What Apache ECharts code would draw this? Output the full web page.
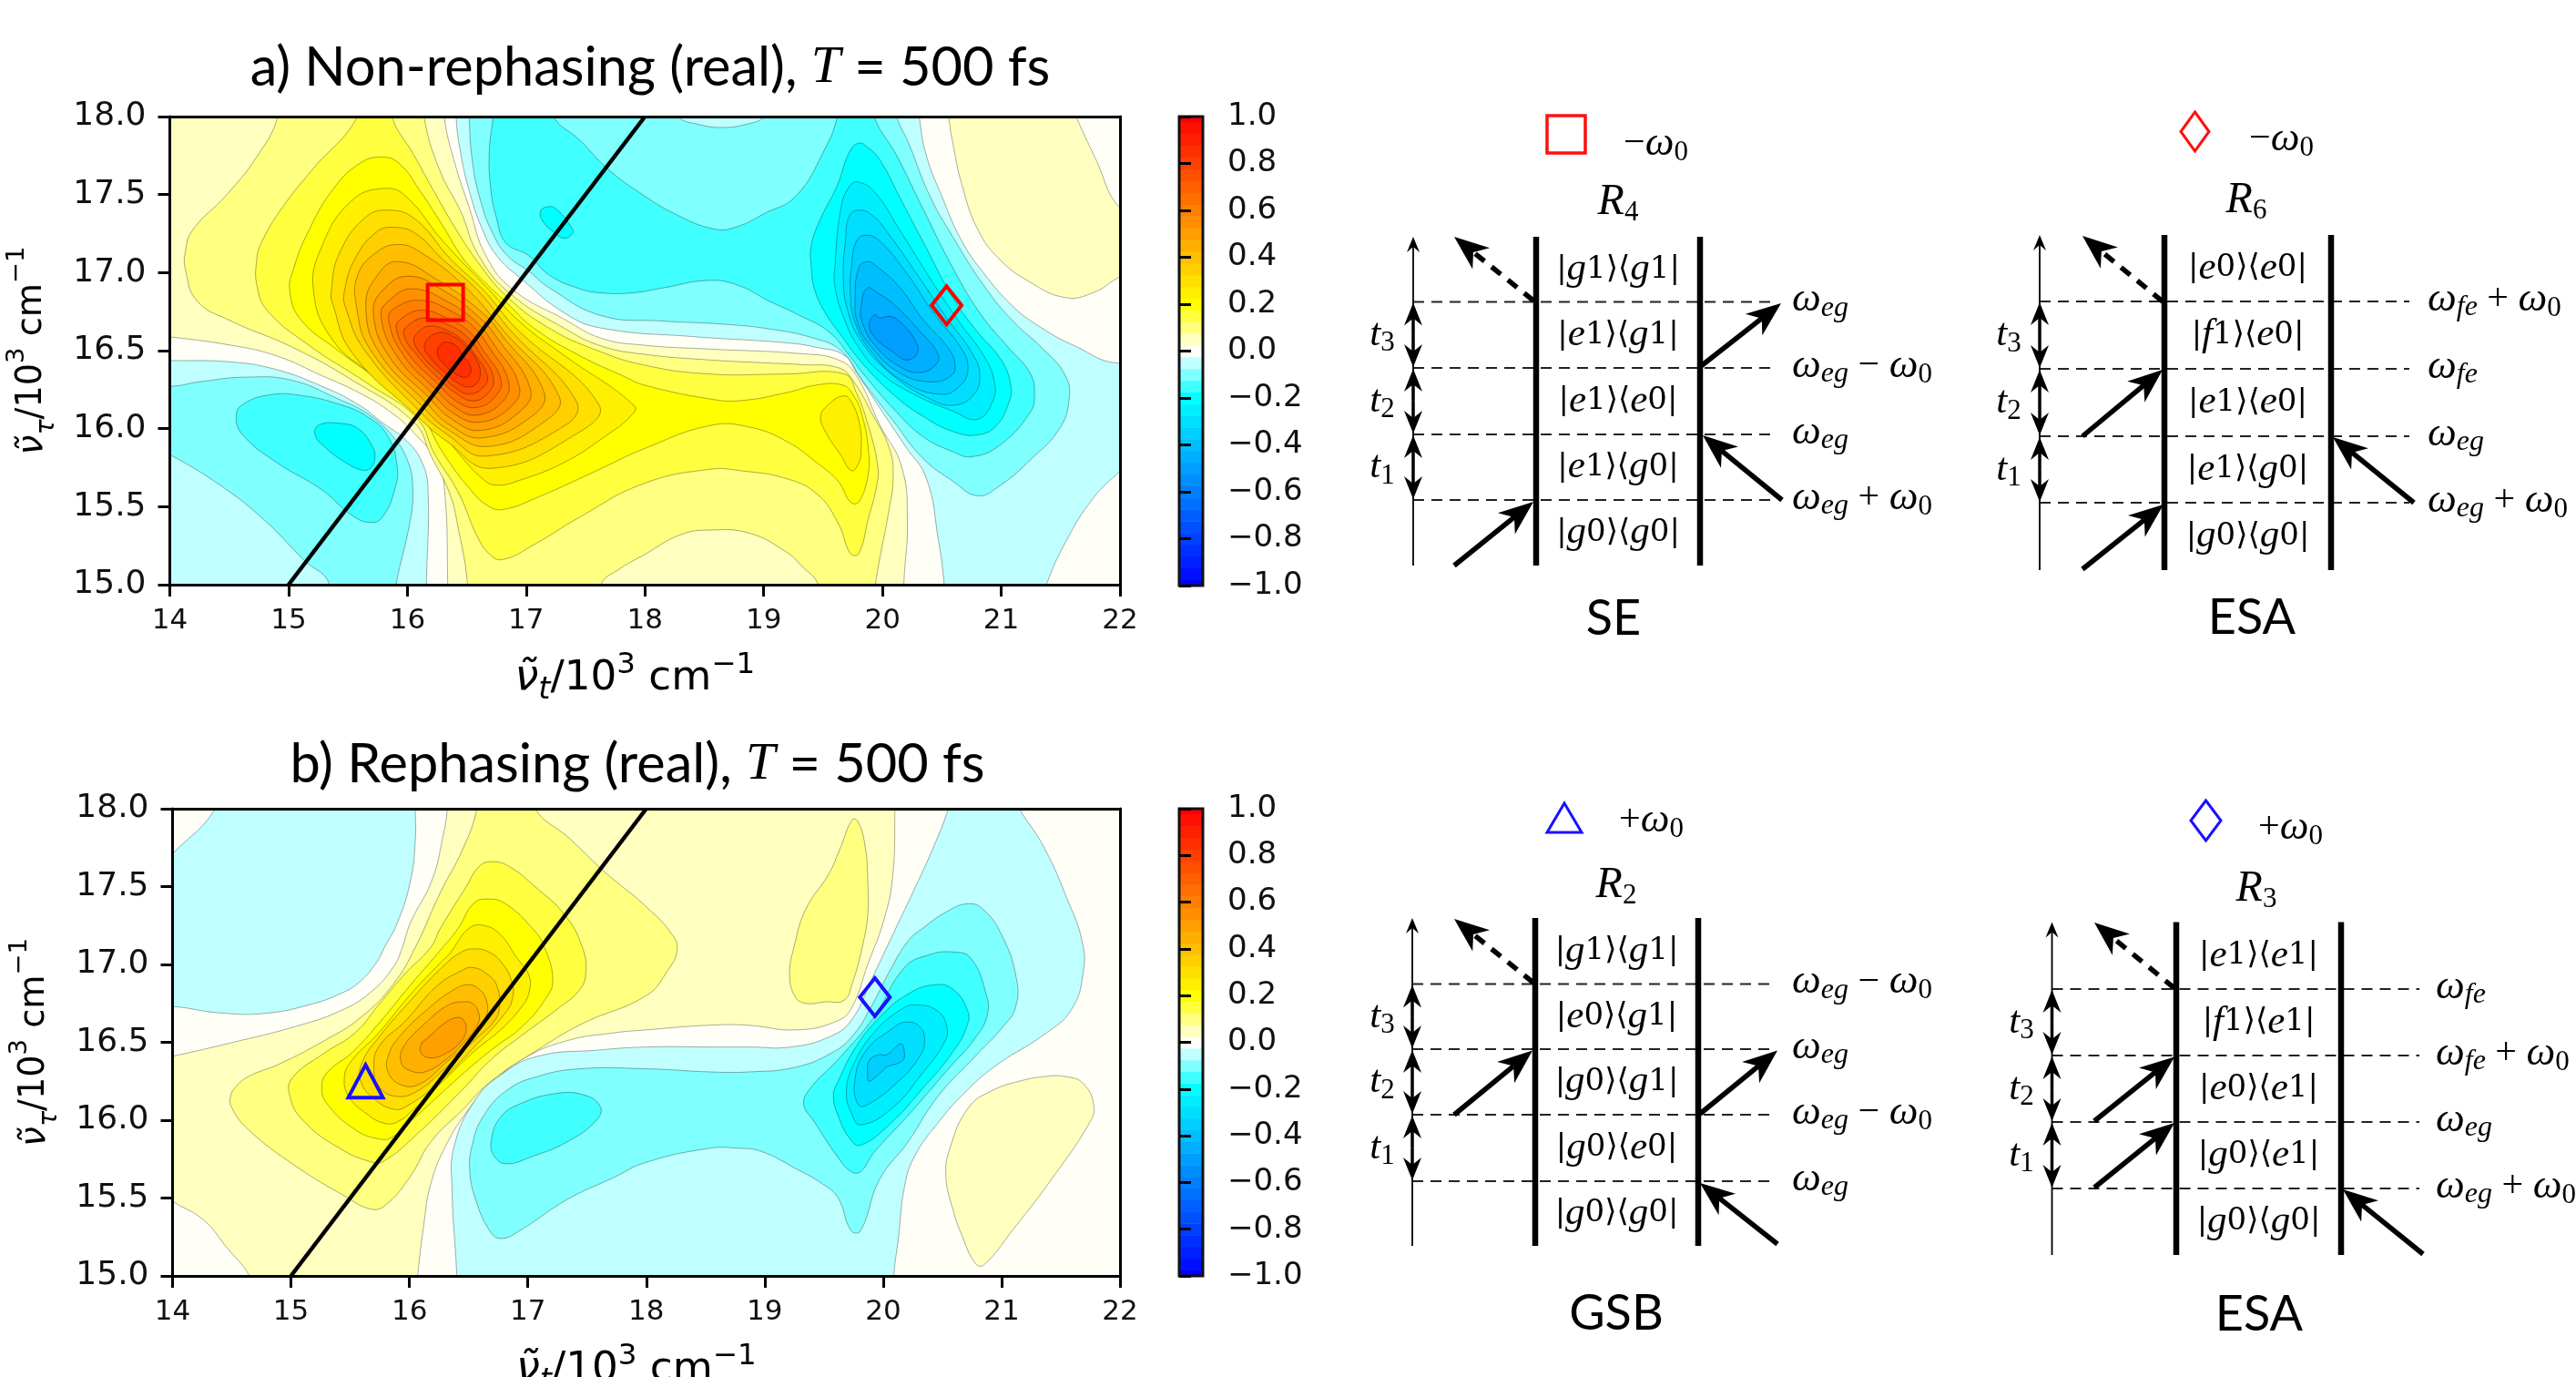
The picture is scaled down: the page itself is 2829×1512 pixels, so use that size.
<!DOCTYPE html>
<html><head><meta charset="utf-8">
<style>html,body{margin:0;padding:0;background:#fff}#c{width:2829px;height:1512px}</style>
<script src="https://cdn.jsdelivr.net/npm/echarts@6/dist/echarts.min.js"></script>
</head><body><div id="c"></div>
<script>
/* ---------- values ---------- */
const X_TICKS=[14,15,16,17,18,19,20,21,22];
const Y_TICKS=[15,15.5,16,16.5,17,17.5,18];
const BAR_LEVELS=[-1,-0.95,-0.9,-0.85,-0.8,-0.75,-0.7,-0.65,-0.6,-0.55,-0.5,-0.45,-0.4,-0.35,-0.3,-0.25,-0.2,-0.15,-0.1,-0.05,0,0.05,0.1,0.15,0.2,0.25,0.3,0.35,0.4,0.45,0.5,0.55,0.6,0.65,0.7,0.75,0.8,0.85,0.9,0.95,1];
const DIAGONAL=[[15,15],[18,18]];
const MARK_A_SQUARE=[[16.32,16.81]], MARK_A_DIAMOND=[[20.54,16.79]];
const MARK_B_TRIANGLE=[[15.63,16.25]], MARK_B_DIAMOND=[[19.93,16.79]];

/* Panel a: filled contour outlines, [nu_t, nu_tau] */
const A_P1=[[13.8,16.6],[14,16.588],[14.512,16.535],[14.895,16.467],[15.279,16.34],[15.586,16.233],[15.842,16.116],[16.046,15.98],[16.251,15.785],[16.315,15.59],[16.34,15],[16.34,14.8],[20.18,14.8],[20.18,15],[20.21,15.42],[20.16,15.76],[19.98,16.02],[19.78,16.34],[19.63,16.44],[19.32,16.48],[18.55,16.51],[17.99,16.535],[17.63,16.58],[17.325,16.7],[16.89,16.89],[16.66,17.11],[16.52,17.42],[16.4,17.7],[16.31,18],[16.31,18.2],[13.8,18.2]];
const A_P1B=[[20.56,18.15],[20.56,18],[20.6,17.8],[20.67,17.56],[20.8,17.28],[20.98,17.09],[21.24,16.94],[21.54,16.84],[21.77,16.87],[21.99,16.97],[22.2,17.05],[22.25,17.3],[21.99,17.42],[21.8,17.72],[21.63,18],[21.55,18.15]];
const A_P2=[[14.91,18.2],[14.91,18],[14.73,17.74],[14.48,17.5],[14.19,17.27],[14.13,17.13],[14.133,17.013],[14.23,16.818],[14.512,16.691],[15.023,16.525],[15.535,16.311],[16.059,16.038],[16.2,15.824],[16.353,15.59],[16.43,15.356],[16.507,15],[16.5,14.8],[17.63,14.8],[17.63,15],[17.785,15.1],[17.99,15.19],[18.3,15.32],[18.55,15.35],[18.88,15.33],[19.19,15.21],[19.32,15.12],[19.46,15],[19.5,14.8],[19.92,14.8],[19.94,15],[20.06,15.5],[20.09,15.68],[20.06,15.87],[19.91,16.1],[19.75,16.31],[19.63,16.39],[19.32,16.41],[19.06,16.42],[18.55,16.44],[17.99,16.477],[17.63,16.53],[17.325,16.642],[16.864,16.866],[16.6,17.11],[16.45,17.39],[16.27,17.66],[16.14,18],[16.14,18.2]];
const A_P3=[[15.58,18.2],[15.58,18],[15.2,17.66],[14.95,17.42],[14.77,17.19],[14.73,17.07],[14.734,16.915],[14.819,16.759],[15.151,16.545],[15.663,16.291],[16.085,16.063],[16.225,15.843],[16.43,15.59],[16.584,15.317],[16.686,15.2],[16.801,15.161],[17.069,15.258],[17.453,15.434],[17.99,15.648],[18.55,15.74],[18.81,15.73],[19.19,15.68],[19.45,15.58],[19.63,15.39],[19.73,15.2],[19.8,15.2],[19.88,15.42],[19.95,15.63],[19.96,15.76],[19.88,16.02],[19.78,16.23],[19.68,16.35],[19.19,16.35],[18.55,16.35],[17.99,16.408],[17.581,16.506],[17.198,16.642],[16.845,16.841],[16.61,17.05],[16.4,17.29],[16.21,17.54],[16.05,17.76],[15.87,18],[15.87,18.2]];
const A_P4=[[15.01,16.88],[15.04,17.02],[15.17,17.27],[15.38,17.54],[15.6,17.7],[15.78,17.74],[15.93,17.7],[16.11,17.52],[16.29,17.31],[16.47,17.09],[16.65,16.94],[16.821,16.818],[17.069,16.642],[17.453,16.467],[17.837,16.33],[17.99,16.28],[18.55,16.19],[18.81,16.18],[19.19,16.23],[19.45,16.28],[19.66,16.28],[19.75,16.22],[19.83,16.08],[19.88,15.87],[19.88,15.71],[19.8,15.53],[19.73,15.53],[19.63,15.66],[19.45,15.78],[19.19,15.92],[18.88,16.01],[18.55,16.02],[17.99,15.87],[17.581,15.726],[17.069,15.551],[16.814,15.483],[16.686,15.502],[16.532,15.609],[16.302,15.843],[16.11,16.087],[15.791,16.291],[15.407,16.506],[15.1,16.701]];
const A_P5=[[15.21,16.88],[15.27,17.15],[15.53,17.46],[15.82,17.54],[16,17.48],[16.29,17.21],[16.65,16.92],[16.967,16.671],[17.325,16.467],[17.913,16.145],[17.875,16.077],[17.683,15.96],[17.325,15.785],[16.942,15.668],[16.75,15.638],[16.635,15.677],[16.43,15.843],[16.136,16.116],[15.663,16.369],[15.356,16.584]];
const A_P5B=[[19.48,16.08],[19.54,16.15],[19.67,16.21],[19.74,16.17],[19.81,16.02],[19.82,15.86],[19.8,15.78],[19.74,15.73],[19.65,15.83],[19.52,15.98]];
const A_P6=[[15.368,16.808],[15.36,16.88],[15.42,17.11],[15.64,17.35],[15.85,17.4],[16.07,17.34],[16.36,17.09],[16.65,16.88],[16.916,16.642],[17.612,16.155],[17.453,15.98],[16.711,15.746],[16.328,15.921],[16.072,16.087],[15.535,16.486]];
const A_P7=[[15.47,16.88],[15.56,17.09],[15.74,17.26],[15.89,17.29],[16.07,17.25],[16.29,17.09],[16.6,16.88],[16.865,16.632],[17.423,16.175],[17.325,16.019],[16.66,15.824],[16.341,15.96],[16.098,16.116],[15.637,16.506],[15.479,16.779]];
const A_P8=[[15.573,16.779],[15.58,16.98],[15.74,17.13],[15.93,17.18],[16.11,17.13],[16.47,16.92],[16.827,16.613],[17.279,16.204],[17.159,16.048],[16.686,15.886],[16.353,15.989],[16.123,16.145],[15.688,16.506]];
const A_P9=[[15.65,16.779],[15.739,16.974],[15.919,17.071],[16.251,16.954],[16.635,16.74],[16.801,16.594],[17.151,16.233],[17.044,16.077],[16.635,15.941],[16.366,16.019],[16.149,16.174],[15.765,16.486]];
const A_P10=[[15.714,16.74],[15.791,16.886],[16.008,16.977],[16.302,16.886],[16.609,16.71],[16.763,16.574],[17.036,16.252],[16.942,16.106],[16.622,15.989],[16.379,16.058],[16.174,16.204],[15.842,16.467]];
const A_P11=[[15.778,16.72],[15.855,16.827],[16.046,16.896],[16.328,16.818],[16.584,16.681],[16.724,16.545],[16.942,16.272],[16.865,16.136],[16.609,16.042],[16.392,16.097],[16.2,16.233],[15.919,16.457]];
const A_P12=[[15.842,16.701],[15.906,16.779],[16.123,16.822],[16.353,16.759],[16.558,16.652],[16.686,16.525],[16.852,16.301],[16.801,16.174],[16.584,16.087],[16.404,16.136],[16.225,16.262],[15.97,16.467]];
const A_P13=[[15.906,16.642],[15.957,16.71],[16.123,16.759],[16.328,16.71],[16.519,16.623],[16.635,16.506],[16.788,16.311],[16.737,16.204],[16.584,16.136],[16.417,16.174],[16.251,16.291],[16.021,16.467]];
const A_P14=[[15.97,16.603],[16.021,16.671],[16.161,16.71],[16.328,16.671],[16.494,16.594],[16.609,16.486],[16.724,16.33],[16.686,16.233],[16.558,16.178],[16.417,16.223],[16.264,16.321],[16.085,16.467]];
const A_P15=[[16.054,16.564],[16.098,16.623],[16.187,16.658],[16.328,16.632],[16.468,16.564],[16.558,16.486],[16.673,16.34],[16.635,16.262],[16.519,16.223],[16.404,16.262],[16.277,16.35],[16.136,16.457]];
const A_P16=[[16.144,16.535],[16.251,16.613],[16.379,16.594],[16.519,16.506],[16.584,16.438],[16.614,16.36],[16.584,16.291],[16.519,16.266],[16.43,16.291],[16.315,16.36],[16.2,16.447]];
const A_P17=[[16.251,16.486],[16.276,16.535],[16.327,16.554],[16.404,16.535],[16.468,16.467],[16.532,16.398],[16.519,16.34],[16.468,16.33],[16.391,16.36],[16.302,16.418]];
const A_N1=[[13.8,16.44],[14,16.437],[14.512,16.428],[14.895,16.379],[15.279,16.272],[15.586,16.155],[15.791,16.038],[15.995,15.921],[16.123,15.785],[16.174,15.609],[16.161,15],[16.16,14.8],[13.8,14.8]];
const A_N2=[[13.8,16.3],[14,16.272],[14.256,16.301],[14.64,16.33],[15.023,16.311],[15.407,16.194],[15.662,16.097],[15.867,15.96],[16.007,15.785],[16.046,15.59],[16.02,15.395],[15.905,15],[15.88,14.8],[15.25,14.8],[15.343,15],[15.125,15.161],[14.767,15.434],[14.384,15.658],[14,15.833],[13.8,15.9]];
const A_N3=[[14.558,16.077],[14.614,16.155],[14.844,16.217],[15.1,16.213],[15.432,16.155],[15.662,16.077],[15.829,15.96],[15.913,15.765],[15.893,15.609],[15.791,15.434],[15.688,15.399],[15.535,15.444],[15.279,15.609],[14.895,15.785],[14.614,15.96]];
const A_N4=[[15.223,15.96],[15.253,16.022],[15.432,16.034],[15.586,15.999],[15.701,15.892],[15.727,15.814],[15.688,15.746],[15.611,15.736],[15.458,15.794],[15.305,15.882]];
const A_M1=[[16.41,18.2],[16.41,18],[16.45,17.76],[16.53,17.5],[16.63,17.28],[16.75,17.11],[16.96,16.96],[17.325,16.74],[17.63,16.645],[18.4,16.59],[19.19,16.55],[19.45,16.52],[19.68,16.47],[19.78,16.36],[19.98,16.13],[20.19,15.89],[20.37,15.68],[20.47,15.29],[20.52,15],[20.53,14.8],[21.3,14.8],[21.38,15],[21.54,15.27],[21.77,15.55],[21.99,15.72],[22.26,15.9],[22.26,16.5],[21.99,16.42],[21.62,16.53],[21.31,16.66],[21.09,16.79],[20.86,16.99],[20.67,17.2],[20.5,17.49],[20.37,17.75],[20.31,18],[20.28,18.2]];
const A_M2=[[16.52,18.2],[16.52,18],[16.55,17.7],[16.62,17.45],[16.72,17.25],[16.84,17.11],[17.02,17.01],[17.2,16.9],[17.63,16.725],[18.14,16.69],[18.65,16.67],[19.04,16.64],[19.42,16.58],[19.65,16.5],[19.83,16.31],[20.09,16.05],[20.34,15.81],[20.6,15.66],[20.8,15.57],[20.98,15.63],[21.26,15.81],[21.49,16],[21.57,16.18],[21.54,16.34],[21.34,16.52],[21.11,16.68],[20.86,16.91],[20.6,17.22],[20.4,17.49],[20.22,17.83],[20.12,18],[20.08,18.2]];
const A_M1HOLE=[[18.2,18.1],[18.27,18],[18.45,17.95],[18.65,17.93],[18.85,17.95],[19.01,18],[19.08,18.1]];
const A_M3=[[16.72,18.15],[16.72,18],[16.69,17.78],[16.7,17.55],[16.75,17.35],[16.83,17.19],[17.02,17.11],[17.197,16.983],[17.453,16.896],[17.63,16.87],[17.89,16.87],[18.14,16.9],[18.53,16.95],[18.78,16.92],[19.04,16.82],[19.29,16.73],[19.55,16.62],[19.73,16.46],[19.83,16.36],[20.09,16.13],[20.34,15.95],[20.6,15.85],[20.75,15.82],[20.98,15.89],[21.24,16.1],[21.28,16.22],[21.24,16.36],[21.06,16.52],[20.83,16.73],[20.6,17.02],[20.34,17.41],[20.12,17.75],[19.93,18],[19.93,18.15],[19.62,18.15],[19.62,18],[19.5,17.77],[19.27,17.49],[19.01,17.38],[18.76,17.29],[18.58,17.28],[18.27,17.37],[17.96,17.51],[17.68,17.67],[17.45,17.85],[17.23,18],[17.23,18.15]];
const A_M4=[[19.8,17.83],[19.72,17.77],[19.62,17.56],[19.47,17.33],[19.4,17.17],[19.4,17.04],[19.43,16.89],[19.52,16.74],[19.65,16.6],[19.83,16.42],[20.09,16.22],[20.34,16.08],[20.6,15.98],[20.8,15.96],[20.96,16.02],[21.07,16.18],[21.08,16.28],[21,16.44],[20.8,16.62],[20.6,16.83],[20.34,17.2],[20.14,17.49],[19.98,17.72],[19.88,17.8]];
const A_M4B=[[17.12,17.39],[17.17,17.42],[17.25,17.41],[17.39,17.28],[17.39,17.25],[17.32,17.22],[17.23,17.26],[17.14,17.33]];
const A_M5=[[19.8,17.58],[19.72,17.55],[19.65,17.41],[19.6,17.04],[19.6,16.91],[19.68,16.7],[19.8,16.52],[19.98,16.36],[20.24,16.23],[20.6,16.11],[20.8,16.06],[20.93,16.18],[20.94,16.31],[20.85,16.47],[20.65,16.68],[20.42,16.94],[20.14,17.28],[19.94,17.51]];
const A_M6=[[19.8,17.4],[19.72,17.36],[19.69,17.22],[19.67,16.96],[19.71,16.75],[19.83,16.55],[20.09,16.34],[20.4,16.19],[20.6,16.15],[20.76,16.21],[20.82,16.34],[20.75,16.49],[20.55,16.7],[20.29,16.99],[20.04,17.26],[19.91,17.37]];
const A_M7=[[19.86,17.24],[19.78,17.2],[19.74,17.04],[19.73,16.86],[19.77,16.68],[19.91,16.49],[20.16,16.31],[20.49,16.22],[20.66,16.28],[20.72,16.39],[20.66,16.52],[20.44,16.73],[20.21,16.99],[19.98,17.2]];
const A_M8=[[19.87,17.07],[19.8,17.03],[19.77,16.83],[19.79,16.68],[19.91,16.52],[20.14,16.36],[20.4,16.3],[20.58,16.34],[20.61,16.42],[20.55,16.52],[20.34,16.7],[20.14,16.91],[19.95,17.04]];
const A_M9=[[19.87,16.9],[19.82,16.78],[19.83,16.68],[19.94,16.53],[20.14,16.4],[20.32,16.36],[20.46,16.42],[20.46,16.49],[20.32,16.62],[20.12,16.78],[19.96,16.87]];
const A_M10=[[19.93,16.73],[19.89,16.66],[19.94,16.58],[20.09,16.49],[20.2,16.44],[20.29,16.48],[20.28,16.56],[20.14,16.69],[20.06,16.72],[19.98,16.71]];

/* Panel b */
const B_P1=[[13.8,16.38],[14,16.41],[14.51,16.5],[15.03,16.6],[15.41,16.7],[15.67,16.82],[15.87,16.99],[15.94,17.11],[16.01,17.27],[16.19,17.54],[16.28,17.81],[16.32,18],[16.33,18.2],[20.1,18.2],[20.1,18],[20.08,17.56],[20,17.27],[19.87,17],[19.74,16.73],[19.62,16.64],[19.28,16.58],[18.85,16.61],[18.54,16.61],[18,16.58],[17.72,16.56],[17.33,16.51],[16.95,16.39],[16.69,16.23],[16.51,16.08],[16.31,15.84],[16.18,15.59],[16.12,15.32],[16.07,15],[16.05,14.8],[14.75,14.8],[14.65,15],[14.46,15.18],[14.26,15.36],[14,15.48],[13.8,15.6]];
const B_P1B=[[21.36,16.28],[21.54,16.28],[21.69,16.235],[21.78,16.09],[21.74,15.98],[21.44,15.64],[21.1,15.3],[20.85,15.07],[20.78,15.08],[20.67,15.25],[20.58,15.45],[20.53,15.64],[20.56,15.81],[20.72,16.08],[20.92,16.19],[21.15,16.25]];
const B_P2=[[16.57,18.15],[16.57,18],[16.45,17.74],[16.26,17.46],[16.05,17.11],[15.87,16.88],[15.59,16.66],[15.28,16.51],[14.9,16.36],[14.64,16.28],[14.53,16.21],[14.49,16.155],[14.5,16.08],[14.64,15.94],[15.03,15.71],[15.46,15.51],[15.67,15.43],[15.79,15.45],[16,15.63],[16.18,15.86],[16.44,16.06],[16.69,16.25],[17.08,16.45],[17.46,16.62],[18,16.8],[18.18,16.96],[18.26,17.09],[18.22,17.19],[18,17.37],[17.64,17.6],[17.35,17.81],[17.06,18],[17.06,18.15]];
const B_P2B=[[19.74,17.93],[19.79,17.915],[19.85,17.75],[19.87,17.53],[19.87,17.32],[19.82,17.1],[19.74,16.88],[19.67,16.77],[19.51,16.76],[19.35,16.75],[19.26,16.79],[19.21,16.93],[19.25,17.12],[19.35,17.36],[19.54,17.58],[19.64,17.75]];
const B_P3=[[17.46,17.11],[17.49,16.95],[17.44,16.84],[17.26,16.72],[16.95,16.545],[16.69,16.39],[16.44,16.19],[16.05,15.9],[15.79,15.74],[15.69,15.73],[15.41,15.82],[15.1,16],[14.99,16.155],[15.01,16.27],[15.28,16.43],[15.54,16.56],[15.74,16.74],[15.95,16.93],[16.18,17.11],[16.26,17.23],[16.48,17.5],[16.59,17.63],[16.7,17.66],[16.84,17.63],[17.06,17.5],[17.32,17.31]];
const B_P4=[[17.14,17.11],[17.21,16.9],[17.15,16.78],[16.95,16.6],[16.69,16.45],[16.44,16.29],[16.05,16.02],[15.85,15.89],[15.74,15.88],[15.54,15.94],[15.31,16.1],[15.26,16.21],[15.31,16.31],[15.51,16.43],[15.74,16.62],[16,16.86],[16.26,17.09],[16.41,17.23],[16.54,17.39],[16.66,17.42],[16.81,17.39],[17.04,17.23]];
const B_P5=[[17.01,16.93],[17.01,16.82],[16.95,16.73],[16.77,16.58],[16.56,16.45],[16.31,16.27],[16.05,16.08],[15.9,15.99],[15.79,15.98],[15.64,16.04],[15.49,16.15],[15.45,16.27],[15.51,16.38],[15.74,16.56],[16,16.8],[16.26,17.01],[16.34,17.07],[16.5,17.23],[16.63,17.25],[16.77,17.19],[16.9,17.05]];
const B_P6=[[16.56,17.1],[16.44,17.08],[16.26,16.97],[16,16.76],[15.74,16.53],[15.6,16.37],[15.59,16.25],[15.69,16.145],[15.87,16.07],[16,16.1],[16.26,16.25],[16.56,16.48],[16.79,16.67],[16.87,16.78],[16.86,16.9],[16.77,17.02],[16.67,17.08]];
const B_P7=[[16.54,16.98],[16.44,16.96],[16.23,16.86],[15.97,16.64],[15.74,16.47],[15.7,16.33],[15.74,16.22],[15.87,16.155],[16.05,16.18],[16.31,16.34],[16.56,16.52],[16.72,16.64],[16.76,16.73],[16.74,16.86],[16.67,16.93]];
const B_P8=[[16.5,16.87],[16.38,16.84],[16.18,16.73],[15.92,16.54],[15.82,16.41],[15.82,16.31],[15.92,16.23],[16.08,16.23],[16.31,16.37],[16.56,16.55],[16.65,16.67],[16.65,16.77],[16.59,16.84]];
const B_P9=[[16.46,16.76],[16.33,16.74],[16.13,16.62],[15.95,16.47],[15.93,16.37],[16,16.32],[16.13,16.31],[16.31,16.39],[16.46,16.5],[16.58,16.62],[16.58,16.7],[16.53,16.75]];
const B_P10=[[16.41,16.66],[16.31,16.63],[16.15,16.525],[16.1,16.49],[16.1,16.43],[16.18,16.4],[16.31,16.43],[16.44,16.51],[16.48,16.59],[16.46,16.64]];
const B_N1A=[[14.36,18.15],[14.36,18],[14,17.71],[13.8,17.55],[13.8,16.72],[14,16.73],[14.38,16.69],[14.77,16.685],[15.15,16.74],[15.44,16.82],[15.59,16.895],[15.72,17.01],[15.79,17.11],[15.9,17.27],[16.01,17.54],[16.05,17.8],[16.05,18],[16.05,18.15]];
const B_N1=[[16.4,14.8],[16.4,15],[16.36,15.55],[16.38,15.84],[16.56,16.135],[16.77,16.29],[17.08,16.41],[17.59,16.45],[18,16.47],[18.54,16.47],[18.87,16.47],[19.22,16.47],[19.56,16.54],[19.74,16.65],[19.9,16.9],[20.08,17.19],[20.28,17.51],[20.44,17.78],[20.55,18],[20.6,18.15],[21.05,18.15],[21.15,18],[21.36,17.75],[21.56,17.41],[21.68,17.15],[21.69,16.95],[21.59,16.71],[21.36,16.55],[20.97,16.36],[20.72,16.2],[20.46,15.98],[20.26,15.76],[20.18,15.57],[20.13,15.25],[20.09,15],[20.08,14.8]];
const B_N2=[[16.53,15.84],[16.62,16.02],[16.82,16.19],[17.08,16.28],[17.44,16.33],[18,16.33],[18.54,16.31],[18.87,16.31],[19.26,16.34],[19.56,16.43],[19.74,16.54],[19.9,16.73],[20.05,16.95],[20.21,17.15],[20.33,17.23],[20.54,17.34],[20.72,17.39],[20.85,17.35],[21,17.19],[21.12,16.93],[21.12,16.73],[21,16.59],[20.79,16.42],[20.46,16.15],[20.21,15.86],[19.97,15.62],[19.81,15.29],[19.73,15.29],[19.62,15.5],[19.49,15.59],[19.26,15.69],[18.97,15.8],[18.77,15.82],[18.54,15.82],[18,15.73],[17.72,15.63],[17.33,15.49],[16.95,15.3],[16.77,15.24],[16.67,15.3],[16.56,15.49],[16.51,15.67]];
const B_N3A=[[16.69,15.86],[16.77,16.02],[16.95,16.11],[17.23,16.17],[17.46,16.165],[17.61,16.09],[17.58,16],[17.33,15.86],[17.03,15.765],[16.82,15.72],[16.72,15.765]];
const B_N3=[[19.33,16.1],[19.38,16.2],[19.62,16.39],[19.92,16.66],[20.18,16.98],[20.38,17.06],[20.59,17.08],[20.74,17.04],[20.87,16.81],[20.88,16.68],[20.79,16.54],[20.54,16.32],[20.21,16.03],[19.92,15.79],[19.81,15.67],[19.73,15.67],[19.62,15.76],[19.41,16]];
const B_N4=[[19.58,16.16],[19.62,16.25],[19.77,16.47],[19.97,16.66],[20.21,16.81],[20.44,16.87],[20.59,16.84],[20.71,16.71],[20.71,16.61],[20.59,16.44],[20.33,16.2],[20.05,15.97],[19.81,15.84],[19.72,15.88],[19.62,16.03]];
const B_N5=[[19.69,16.175],[19.74,16.34],[19.92,16.56],[20.15,16.71],[20.28,16.74],[20.46,16.7],[20.54,16.59],[20.51,16.49],[20.33,16.3],[20.08,16.08],[19.81,15.97],[19.73,16.05]];
const B_N6=[[19.76,16.25],[19.85,16.44],[20.08,16.59],[20.19,16.63],[20.31,16.6],[20.35,16.51],[20.31,16.41],[20.13,16.25],[19.87,16.1],[19.79,16.1]];
const B_N7=[[19.87,16.3],[19.88,16.38],[19.96,16.42],[20.03,16.42],[20.15,16.49],[20.18,16.43],[20.16,16.38],[20.03,16.34],[19.97,16.3],[19.88,16.25]];

/* contour table: [band value, outline], painted in this order */
const PANEL_A=[[0.05,A_P1],[0.05,A_P1B],[0.1,A_P2],[0.15,A_P3],[0.2,A_P4],[0.25,A_P5],[0.25,A_P5B],[0.3,A_P6],[0.35,A_P7],[0.4,A_P8],[0.45,A_P9],[0.5,A_P10],[0.55,A_P11],[0.6,A_P12],[0.65,A_P13],[0.7,A_P14],[0.75,A_P15],[0.8,A_P16],[0.85,A_P17],
 [-0.05,A_N1],[-0.1,A_N2],[-0.15,A_N3],[-0.2,A_N4],[-0.05,A_M1],[-0.1,A_M2],[-0.05,A_M1HOLE],[-0.15,A_M3],[-0.2,A_M4],[-0.2,A_M4B],[-0.25,A_M5],[-0.3,A_M6],[-0.35,A_M7],[-0.4,A_M8],[-0.45,A_M9],[-0.5,A_M10]];
const PANEL_B=[[0.05,B_P1],[0.05,B_P1B],[0.1,B_P2],[0.1,B_P2B],[0.15,B_P3],[0.2,B_P4],[0.25,B_P5],[0.3,B_P6],[0.35,B_P7],[0.4,B_P8],[0.45,B_P9],[0.5,B_P10],
 [-0.05,B_N1A],[-0.05,B_N1],[-0.1,B_N2],[-0.15,B_N3A],[-0.15,B_N3],[-0.2,B_N4],[-0.25,B_N5],[-0.3,B_N6],[-0.35,B_N7]];

/* Feynman diagram text */
const STATES_SE=['|g1⟩⟨g1|','|e1⟩⟨g1|','|e1⟩⟨e0|','|e1⟩⟨g0|','|g0⟩⟨g0|'];
const STATES_R6=['|e0⟩⟨e0|','|f1⟩⟨e0|','|e1⟩⟨e0|','|e1⟩⟨g0|','|g0⟩⟨g0|'];
const STATES_R2=['|g1⟩⟨g1|','|e0⟩⟨g1|','|g0⟩⟨g1|','|g0⟩⟨e0|','|g0⟩⟨g0|'];
const STATES_R3=['|e1⟩⟨e1|','|f1⟩⟨e1|','|e0⟩⟨e1|','|g0⟩⟨e1|','|g0⟩⟨g0|'];
const FREQ_SE=[['eg',''],['eg','−'],['eg',''],['eg','+']];
const FREQ_R6=[['fe','+'],['fe',''],['eg',''],['eg','+']];
const FREQ_R2=[['eg','−'],['eg',''],['eg','−'],['eg','']];
const FREQ_R3=[['fe',''],['fe','+'],['eg',''],['eg','+']];

/* ---------- drawing ---------- */
function bandColor(v){
  const a=Math.abs(v); if(a<1e-6) return '#fffff8';
  let r,g,b;
  if(a<=0.2){const t=Math.round(255*(1-a/0.2)); if(v>0){r=255;g=255;b=t}else{r=t;g=255;b=255}}
  else{const t=Math.round(255*(1-(a-0.2)/0.8)); if(v>0){r=255;g=t;b=0}else{r=0;g=t;b=255}}
  return 'rgb('+r+','+g+','+b+')';
}
const FONT='DejaVu Sans';
function nuLabel(sub){
  return '{n|ν̃}{s|'+sub+'}{r|/10}{u|3}{r| cm}{u|−1}';
}
const richFor=(k)=>({
  n:{fontFamily:FONT,fontStyle:'italic',fontSize:40*k,lineHeight:60,color:'#000'},
  r:{fontFamily:FONT,fontSize:39*k,lineHeight:60,color:'#000'},
  s:{fontFamily:FONT,fontStyle:'italic',fontSize:29*k,lineHeight:38,verticalAlign:'bottom',color:'#000'},
  u:{fontFamily:FONT,fontSize:28*k,lineHeight:38,verticalAlign:'top',color:'#000'}
});
const fmtTick=v=>{const s=Math.abs(v)<1e-9?'0.0':Math.abs(v).toFixed(1);return (v<-1e-9?'−':'')+s};
function mainAxes(g){
  const ax=(extra)=>Object.assign({gridIndex:g,z:10,axisLine:{show:true,onZero:false,lineStyle:{color:'#000',width:3}},splitLine:{show:false}},extra);
  return {
   x:[ax({type:'value',min:X_TICKS[0],max:X_TICKS[X_TICKS.length-1],interval:1,position:'bottom',
        axisTick:{show:true,length:13,lineStyle:{color:'#000',width:3}},axisLabel:{color:'#111',fontFamily:FONT,fontSize:31,margin:24,showMinLabel:true,showMaxLabel:true},
        name:nuLabel('t'),nameLocation:'middle',nameGap:73,nameMoveOverlap:false,nameTextStyle:{padding:[0,22,0,0],rich:richFor(1.16)}}),
      ax({type:'value',min:14,max:22,interval:1,position:'top',axisTick:{show:false},axisLabel:{show:false}})],
   y:[ax({type:'value',min:Y_TICKS[0],max:Y_TICKS[Y_TICKS.length-1],interval:0.5,position:'left',
        axisTick:{show:true,length:13,lineStyle:{color:'#000',width:3}},axisLabel:{color:'#111',fontFamily:FONT,fontSize:36,margin:26,formatter:fmtTick,showMinLabel:true,showMaxLabel:true,verticalAlignMaxLabel:'middle',verticalAlignMinLabel:'middle'},
        name:nuLabel('τ'),nameLocation:'middle',nameGap:121,nameRotate:90,nameMoveOverlap:false,nameTextStyle:{rich:richFor(0.98)}}),
      ax({type:'value',min:15,max:18,interval:0.5,position:'right',axisTick:{show:false},axisLabel:{show:false}})]
  };
}
const aA=mainAxes(0), aB=mainAxes(1);
const barAxis=(g)=>({x:{gridIndex:g,type:'value',min:0,max:1,show:false},
  y:{gridIndex:g,type:'value',min:-1,max:1,interval:0.2,position:'right',z:10,
    axisLine:{show:false},splitLine:{show:false},
    axisTick:{show:true,length:13,lineStyle:{color:'#000',width:3}},
    axisLabel:{color:'#111',fontFamily:FONT,fontSize:34,margin:27,formatter:fmtTick,showMinLabel:true,showMaxLabel:true,verticalAlignMaxLabel:'middle',verticalAlignMinLabel:'middle'}}});
const bA=barAxis(2), bB=barAxis(3);

function contourSeries(table,xi,yi){
  return {type:'custom',xAxisIndex:xi,yAxisIndex:yi,coordinateSystem:'cartesian2d',clip:true,silent:true,z:2,
    data:table.map((t,i)=>[i,t[0]]),
    encode:{x:-1,y:-1},
    renderItem:(p,api)=>{
      const t=table[p.dataIndex];
      const pts=t[1].map(q=>api.coord(q));
      return {type:'polygon',shape:{points:pts,smooth:0.45},
        style:{fill:bandColor(t[0]),stroke:'rgba(0,0,0,0.36)',lineWidth:0.9}};
    }};
}
function barSeries(xi,yi){
  const edges=BAR_LEVELS.map(v=>[Math.max(-1,v-0.025),Math.min(1,v+0.025),v]);
  return [{type:'custom',xAxisIndex:xi,yAxisIndex:yi,silent:true,clip:false,z:2,data:edges,encode:{x:-1,y:-1},
    renderItem:(p,api)=>{
      const a=api.coord([0,api.value(0)]),b=api.coord([1,api.value(1)]);
      return {type:'rect',shape:{x:a[0],y:b[1],width:b[0]-a[0],height:a[1]-b[1]+0.5},style:{fill:bandColor(api.value(2))}};
    }},
   {type:'custom',xAxisIndex:xi,yAxisIndex:yi,silent:true,clip:false,z:3,data:[[0]],encode:{x:-1,y:-1},
    renderItem:(p,api)=>{
      const a=api.coord([0,-1]),b=api.coord([1,1]);
      return {type:'rect',shape:{x:a[0],y:b[1],width:b[0]-a[0],height:a[1]-b[1]},style:{fill:'none',stroke:'#111',lineWidth:3}};
    }}];
}
const diag=(xi,yi)=>({type:'line',xAxisIndex:xi,yAxisIndex:yi,data:DIAGONAL,showSymbol:false,silent:true,z:5,lineStyle:{color:'#000',width:4.5}});
const mark=(d,sym,size,col,xi,yi)=>({type:'scatter',xAxisIndex:xi,yAxisIndex:yi,data:d,symbol:sym,symbolSize:size,silent:true,z:6,
  itemStyle:{color:'rgba(0,0,0,0)',borderColor:col,borderWidth:4,opacity:1}});

/* Feynman diagrams (schematic graphics, layout in page pixels) */
const SE={l:1687,r:1867,top:260,bot:621,lv:[331.5,404,477,549],ax:1552,end:1952,tx:1518,lx:1968,st:STATES_SE,fr:FREQ_SE,name:['R','4'],nx:1777,ny:222,
  arrows:[[1597,621,1684,551],[1868,402,1956,333],[1957,549,1870,478],[1684,330,1597,260,1]],label:['SE',1772,680]};
const R6={l:2377,r:2560,top:258,bot:626,lv:[331,405,479,552],ax:2240,end:2646,tx:2206,lx:2666,st:STATES_R6,fr:FREQ_R6,name:['R','6'],nx:2467,ny:220,
  arrows:[[2287,625,2376,554],[2287,479,2375,406],[2651,552,2562,480],[2375,331,2287,259,1]],label:['ESA',2473,679]};
const R2={l:1686,r:1865,top:1008,bot:1368,lv:[1080.5,1152,1224,1297],ax:1551,end:1948,tx:1518,lx:1968,st:STATES_R2,fr:FREQ_R2,name:['R','2'],nx:1775,ny:972,
  arrows:[[1597,1224,1683,1153.5],[1867,1223,1952,1153.5],[1952,1366,1867,1299],[1684,1079,1597,1009,1]],label:['GSB',1775,1443]};
const R3={l:2390,r:2571,top:1012.5,bot:1378,lv:[1086,1159,1232,1305],ax:2253.5,end:2657,tx:2220,lx:2675,st:STATES_R3,fr:FREQ_R3,name:['R','3'],nx:2478,ny:976,
  arrows:[[2661,1377,2573,1306],[2300,1304,2388,1233],[2300,1231,2388,1160.5],[2388,1085,2300,1013,1]],label:['ESA',2481,1444]};
const SERIF='"Liberation Serif","DejaVu Serif",serif';
const diagRich={
  i:{fontFamily:SERIF,fontStyle:'italic',fontSize:43,lineHeight:50,color:'#111'},
  h:{fontFamily:SERIF,fontStyle:'italic',fontSize:48,lineHeight:54,color:'#111'},
  o:{fontFamily:'"DejaVu Serif",serif',fontSize:34,lineHeight:50,color:'#111'},
  w:{fontFamily:SERIF,fontStyle:'italic',fontSize:45,lineHeight:50,color:'#111'},
  s:{fontFamily:SERIF,fontStyle:'italic',fontSize:32,lineHeight:30,verticalAlign:'bottom',color:'#111'},
  z:{fontFamily:SERIF,fontSize:31,lineHeight:30,verticalAlign:'bottom',color:'#111'},
  p:{fontFamily:SERIF,fontSize:42,lineHeight:50,color:'#111'}
};
function colored(c){const o={};for(const k in diagRich){o[k]=Object.assign({},diagRich[k],{color:c})}return o}
function stateText(t){
  return t.replace(/[gef]|[^gef]+/g,m=>/^[gef]$/.test(m)?'{i|'+m+'}':'{o|'+m+'}');
}
function freqText(f){
  return '{w|ω}{s|'+(f[0]==='fe'?'fe':'eg')+'}'+(f[1]?'{p| '+f[1]+' }{w|ω}{z|0}':'');
}
function arrowEls(x1,y1,x2,y2,o){
  const a=Math.atan2(y2-y1,x2-x1),c=Math.cos(a),s=Math.sin(a);
  const L=o.len,W=o.half,N=o.notch;
  const P=(u,v)=>[x2+u*c-v*s,y2+u*s+v*c];
  return [{type:'line',silent:true,shape:{x1:x1,y1:y1,x2:x2-N*c,y2:y2-N*s},style:{stroke:'#000',lineWidth:o.lw,lineDash:o.dash||null}},
          {type:'polygon',silent:true,shape:{points:[P(0,0),P(-L,W),P(-N,0),P(-L,-W)]},style:{fill:'#000'}}];
}
function txt(t,x,y,align,rich){
  return {type:'text',silent:true,style:{text:t,x:x,y:y,align:align,verticalAlign:'middle',rich:rich}};
}
function diagram(d){
  let e=[];
  d.lv.forEach(y=>e.push({type:'line',silent:true,shape:{x1:d.ax,y1:y,x2:d.end,y2:y},style:{stroke:'#222',lineWidth:1.8,lineDash:[12,8]}}));
  e=e.concat(arrowEls(d.ax,d.bot,d.ax,d.top,{len:17,half:7,notch:11,lw:1.8}));
  for(let i=0;i<3;i++){
    const a=d.lv[3-i],b=d.lv[2-i],m=(a+b)/2;
    e=e.concat(arrowEls(d.ax,m,d.ax,b+1,{len:25,half:10,notch:17,lw:3.5}));
    e=e.concat(arrowEls(d.ax,m,d.ax,a-1,{len:25,half:10,notch:17,lw:3.5}));
    e.push(txt('{i|t}{z|'+(i+1)+'}',d.tx,m,'center',diagRich));
  }
  [d.l,d.r].forEach(x=>e.push({type:'line',silent:true,shape:{x1:x,y1:d.top,x2:x,y2:d.bot},style:{stroke:'#000',lineWidth:6.5}}));
  d.arrows.forEach(a=>{e=e.concat(arrowEls(a[0],a[1],a[2],a[3],{len:38,half:15,notch:27,lw:5.5,dash:a[4]?[13,10]:null}))});
  const rows=[d.top].concat(d.lv,[d.bot]);
  d.st.forEach((s,i)=>e.push(txt(stateText(s),(d.l+d.r)/2,(rows[i]+rows[i+1])/2,'center',diagRich)));
  d.fr.forEach((f,i)=>e.push(txt(freqText(f),d.lx,d.lv[i]-2,'left',diagRich)));
  e.push(txt('{h|'+d.name[0]+'}{z|'+d.name[1]+'}',d.nx,d.ny,'center',diagRich));
  e.push({type:'text',silent:true,style:{text:d.label[0],x:d.label[1],y:d.label[2],align:'center',verticalAlign:'middle',font:'54px Lato, "Open Sans", sans-serif',fill:'#000'}});
  return e;
}
const RED='#ff1010',BLUE='#1a10ff';
const poly=(pts,c)=>({type:'polygon',silent:true,shape:{points:pts},style:{fill:'none',stroke:c,lineWidth:3}});
const keys=[
  {type:'rect',silent:true,shape:{x:1699,y:127,width:42,height:41},style:{fill:'none',stroke:RED,lineWidth:3.5}},
  txt('{p|−}{w|ω}{z|0}',1783,158,'left',colored(RED)),
  poly([[2410.5,123],[2426,144.5],[2410.5,166],[2395,144.5]],RED),
  txt('{p|−}{w|ω}{z|0}',2470,153,'left',colored(RED)),
  poly([[1718,882],[1737,914],[1699,914]],BLUE),
  txt('{p|+}{w|ω}{z|0}',1778,901,'left',colored(BLUE)),
  poly([[2422.5,879],[2439,901],[2422.5,923],[2406,901]],BLUE),
  txt('{p|+}{w|ω}{z|0}',2480,909,'left',colored(BLUE))
];

const titleRich={a:{fontFamily:'Lato, "Open Sans", sans-serif',fontWeight:'normal',fontSize:59.5,color:'#000'},
  t:{fontFamily:SERIF,fontStyle:'italic',fontWeight:'normal',fontSize:58,color:'#000'}};
const gridBase={outerBoundsMode:'none',containLabel:false};
const option={
  backgroundColor:'#fff',animation:false,
  title:[{text:'{a|a) Non-rephasing (real), }{t|T}{a| = 500 fs}',left:709,top:40,textAlign:'center',textStyle:{fontWeight:'normal',rich:titleRich}},
         {text:'{a|b) Rephasing (real), }{t|T}{a| = 500 fs}',left:695,top:805,textAlign:'center',textStyle:{fontWeight:'normal',rich:titleRich}}],
  grid:[Object.assign({left:186.5,top:128,width:1043.5,height:514,show:true,backgroundColor:'#fffff8',borderWidth:0},gridBase),
        Object.assign({left:189.5,top:888,width:1040.5,height:513,show:true,backgroundColor:'#fffff8',borderWidth:0},gridBase),
        Object.assign({left:1295,top:128,width:26,height:515},gridBase),
        Object.assign({left:1295,top:888,width:26,height:513},gridBase)],
  xAxis:[aA.x[0],aA.x[1],aB.x[0],aB.x[1],bA.x,bB.x],
  yAxis:[aA.y[0],aA.y[1],aB.y[0],aB.y[1],bA.y,bB.y],
  series:[contourSeries(PANEL_A,0,0),diag(0,0),mark(MARK_A_SQUARE,'rect',[39,39],'#ff0000',0,0),mark(MARK_A_DIAMOND,'diamond',[33,42],'#ff0000',0,0),
          contourSeries(PANEL_B,2,2),diag(2,2),mark(MARK_B_TRIANGLE,'triangle',[38,36],'#1a10ff',2,2),mark(MARK_B_DIAMOND,'diamond',[33,42],'#1a10ff',2,2)]
          .concat(barSeries(4,4),barSeries(5,5)),
  graphic:{elements:[].concat(diagram(SE),diagram(R6),diagram(R2),diagram(R3),keys)}
};
const chart=echarts.init(document.getElementById('c'),null,{renderer:'canvas',width:2829,height:1512});
chart.setOption(option);
</script></body></html>
